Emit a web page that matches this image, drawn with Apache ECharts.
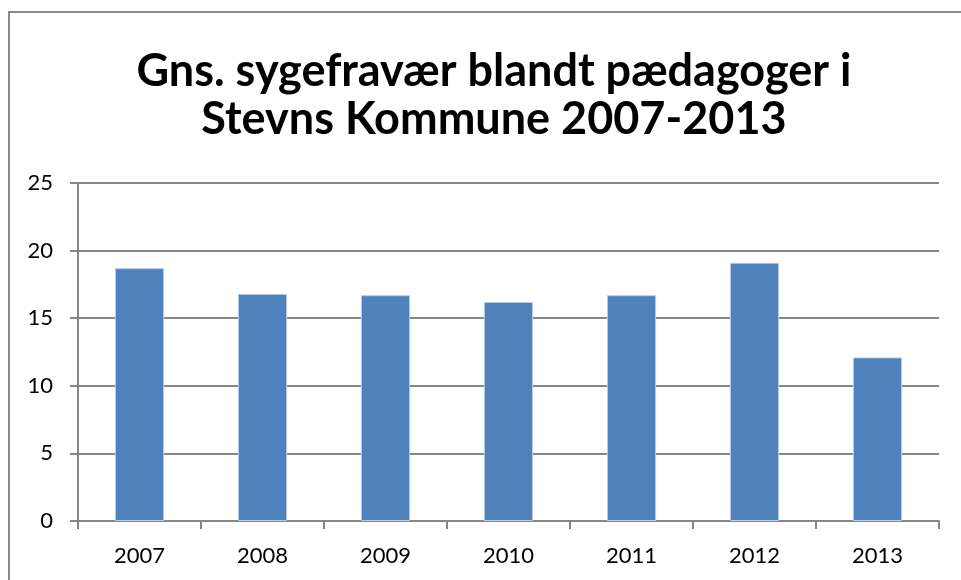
<!DOCTYPE html>
<html>
<head>
<meta charset="utf-8">
<script src="https://cdn.jsdelivr.net/npm/echarts@6/dist/echarts.min.js"></script>
<style>
  html, body { margin: 0; padding: 0; background: #fff; }
  #chart { width: 961px; height: 580px; }
</style>
</head>
<body>
<div id="chart"></div>
<script>
// Data
const years = ['2007', '2008', '2009', '2010', '2011', '2012', '2013'];
const sickDays = [18.7, 16.8, 16.7, 16.2, 16.7, 19.1, 12.1];
const titleLines = ['Gns. sygefravær blandt pædagoger i', 'Stevns Kommune 2007-2013'];

const FONT = 'Lato, "Open Sans", "Liberation Sans", sans-serif';

const chart = echarts.init(document.getElementById('chart'), null, { renderer: 'canvas' });

const option = {
    animation: false,
    backgroundColor: '#fff',
    // Chart-area border (Excel style frame, cut off at the right and bottom)
    graphic: [{
        type: 'rect',
        shape: { x: 9, y: 12, width: 1000, height: 700 },
        style: { fill: 'none', stroke: '#888888', lineWidth: 2 },
        silent: true
    }],
    title: {
        text: titleLines.join('\n'),
        left: 489,
        textAlign: 'center',
        top: 42,
        textStyle: {
            fontFamily: FONT,
            fontWeight: 'bold',
            fontSize: 45,
            lineHeight: 48,
            color: '#000'
        }
    },
    grid: {
        left: 78,
        right: 22,
        top: 183,
        bottom: 59,
        containLabel: false
    },
    xAxis: {
        type: 'category',
        data: years,
        axisLine: { lineStyle: { color: '#868686', width: 2 } },
        axisTick: { show: true, alignWithLabel: false, length: 8, lineStyle: { color: '#868686', width: 2 } },
        axisLabel: { fontFamily: FONT, fontSize: 22, color: '#000', margin: 24 }
    },
    yAxis: {
        type: 'value',
        min: 0,
        max: 25,
        interval: 5,
        axisLine: { show: true, lineStyle: { color: '#868686', width: 2 } },
        axisTick: { show: true, length: 8, lineStyle: { color: '#868686', width: 2 } },
        splitLine: { lineStyle: { color: '#868686', width: 2 } },
        axisLabel: { fontFamily: FONT, fontSize: 22, color: '#000', margin: 25 }
    },
    series: [{
        type: 'bar',
        data: sickDays,
        barWidth: '40%',
        itemStyle: {
            color: '#4F81BD',
            borderColor: '#B9CDE5',
            borderWidth: 1
        }
    }]
};

chart.setOption(option);
</script>
</body>
</html>
